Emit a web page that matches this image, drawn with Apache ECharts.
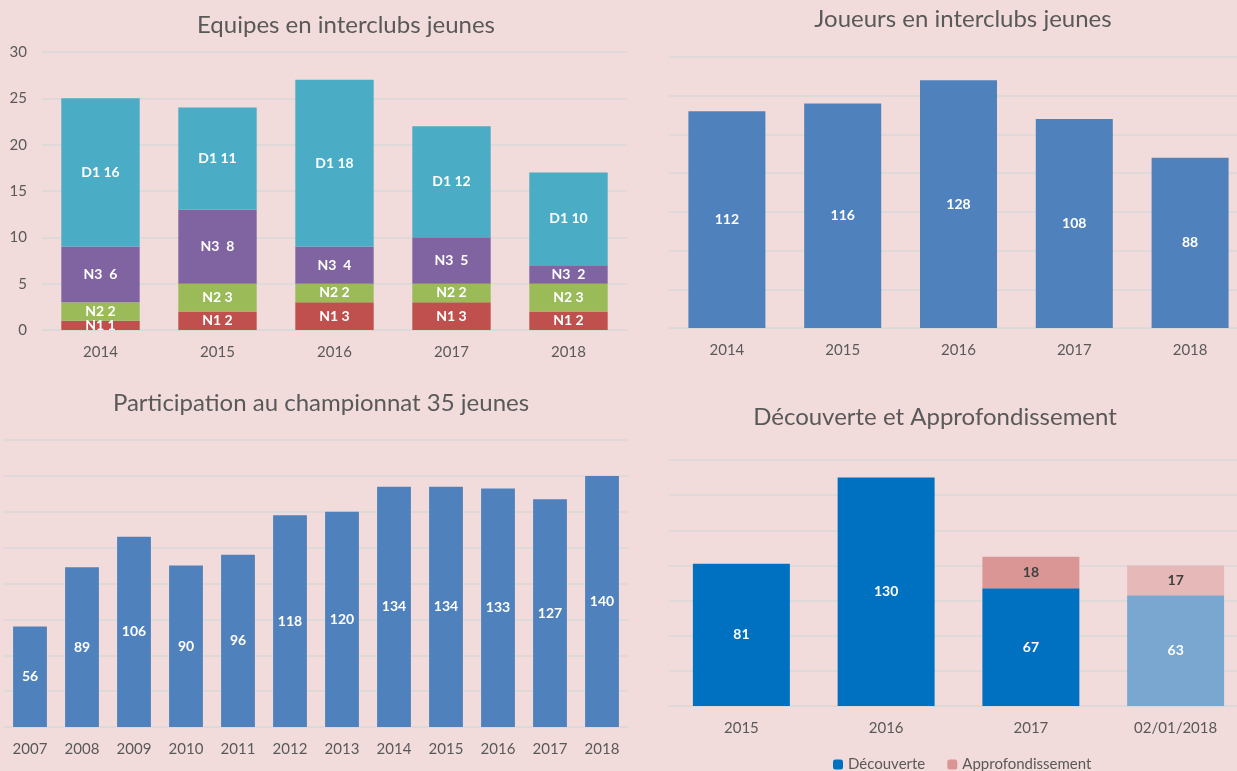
<!DOCTYPE html>
<html>
<head>
<meta charset="utf-8">
<script src="https://cdn.jsdelivr.net/npm/echarts@6/dist/echarts.min.js"></script>
<style>
  html, body { margin: 0; padding: 0; background: #F2DCDB; }
  #main { width: 1237px; height: 771px; }
</style>
</head>
<body>
<div id="main"></div>
<script>
// Equipes en interclubs jeunes
var equipesYears = ['2014', '2015', '2016', '2017', '2018'];
var n1 = [1, 2, 3, 3, 2];
var n2 = [2, 3, 2, 2, 3];
var n3 = [6, 8, 4, 5, 2];
var d1 = [16, 11, 18, 12, 10];

// Joueurs en interclubs jeunes
var joueursYears = ['2014', '2015', '2016', '2017', '2018'];
var joueurs = [112, 116, 128, 108, 88];

// Participation au championnat 35 jeunes
var champYears = ['2007', '2008', '2009', '2010', '2011', '2012', '2013', '2014', '2015', '2016', '2017', '2018'];
var champ = [56, 89, 106, 90, 96, 118, 120, 134, 134, 133, 127, 140];

// Découverte et Approfondissement
var decYears = ['2015', '2016', '2017', '02/01/2018'];
var decouverte = [81, 130, 67, 63];
var approf = [null, null, 18, 17];

var font = 'Lato';
var txt = '#595959';
var gridColor = '#D9D9D9';

var mychart = echarts.init(document.getElementById('main'));

function catAxis(gi, data) {
    return {
        type: 'category',
        gridIndex: gi,
        data: data,
        axisTick: { show: false },
        axisLine: { show: true, lineStyle: { color: gridColor, width: 1 } },
        axisLabel: { color: txt, fontSize: 15, fontFamily: font, margin: 15 }
    };
}

function valAxis(gi, max, step, showLabel) {
    return {
        type: 'value',
        gridIndex: gi,
        min: 0,
        max: max,
        interval: step,
        axisLine: { show: false },
        axisTick: { show: false },
        axisLabel: { show: showLabel, color: txt, fontSize: 15, fontFamily: font, margin: 15 },
        splitLine: { lineStyle: { color: gridColor, width: 1.5 } }
    };
}

function inLabel(prefix, color) {
    return {
        show: true,
        position: 'inside',
        color: color || '#fff',
        fontWeight: 'bold',
        fontSize: 14,
        fontFamily: font,
        formatter: function(p) {
            if (p.value == null) return '';
            return prefix + p.value;
        }
    };
}

function stackBar(name, data, color, prefix) {
    return {
        name: name,
        type: 'bar',
        xAxisIndex: 0,
        yAxisIndex: 0,
        stack: 'eq',
        barWidth: '67%',
        data: data,
        itemStyle: { color: color },
        label: inLabel(prefix)
    };
}

var titleStyle = { color: txt, fontSize: 24, fontWeight: 'normal', fontFamily: font };

var option = {
    backgroundColor: '#F2DCDB',
    animation: false,
    title: [
        { text: 'Equipes en interclubs jeunes', left: 341, top: 8, textAlign: 'center', textStyle: titleStyle },
        { text: 'Joueurs en interclubs jeunes', left: 958, top: 2, textAlign: 'center', textStyle: titleStyle },
        { text: 'Participation au championnat 35 jeunes', left: 316, top: 386, textAlign: 'center', textStyle: titleStyle },
        { text: 'Découverte et Approfondissement', left: 930, top: 400, textAlign: 'center', textStyle: titleStyle }
    ],
    legend: {
        data: ['Découverte', 'Approfondissement'],
        left: 828,
        top: 752,
        itemWidth: 10,
        itemHeight: 10,
        itemGap: 22,
        textStyle: { color: txt, fontSize: 15, fontFamily: font }
    },
    grid: [
        { left: 42, top: 52, width: 585, height: 278, outerBoundsMode: 'none' },
        { left: 669, top: 57, width: 579, height: 271, outerBoundsMode: 'none' },
        { left: 4, top: 440, width: 624, height: 287, outerBoundsMode: 'none' },
        { left: 669, top: 460, width: 579, height: 246, outerBoundsMode: 'none' }
    ],
    xAxis: [
        catAxis(0, equipesYears),
        catAxis(1, joueursYears),
        catAxis(2, champYears),
        catAxis(3, decYears)
    ],
    yAxis: [
        valAxis(0, 30, 5, true),
        valAxis(1, 140, 20, false),
        valAxis(2, 160, 20, false),
        valAxis(3, 140, 20, false)
    ],
    series: [
        stackBar('N1', n1, '#C0504D', 'N1 '),
        stackBar('N2', n2, '#9BBB59', 'N2 '),
        stackBar('N3', n3, '#8064A2', 'N3  '),
        stackBar('D1', d1, '#4BACC6', 'D1 '),
        {
            name: 'Joueurs',
            type: 'bar',
            xAxisIndex: 1,
            yAxisIndex: 1,
            barWidth: '66.5%',
            data: joueurs,
            itemStyle: { color: '#4F81BD' },
            label: inLabel('')
        },
        {
            name: 'Participation',
            type: 'bar',
            xAxisIndex: 2,
            yAxisIndex: 2,
            barWidth: '65%',
            data: champ,
            itemStyle: { color: '#4F81BD' },
            label: inLabel('')
        },
        {
            name: 'Découverte',
            type: 'bar',
            xAxisIndex: 3,
            yAxisIndex: 3,
            stack: 'dec',
            barWidth: '67%',
            itemStyle: { color: '#0070C0' },
            data: decouverte.map(function(v, i) {
                // la derniere annee est en cours, couleur pale
                if (i == decouverte.length - 1) return { value: v, itemStyle: { color: '#79A7CF' } };
                return v;
            }),
            label: inLabel('')
        },
        {
            name: 'Approfondissement',
            type: 'bar',
            xAxisIndex: 3,
            yAxisIndex: 3,
            stack: 'dec',
            barWidth: '67%',
            itemStyle: { color: '#D99694' },
            data: approf.map(function(v, i) {
                if (i == approf.length - 1) return { value: v, itemStyle: { color: '#E6B8B7' } };
                return v;
            }),
            label: inLabel('', '#404040')
        }
    ]
};

mychart.setOption(option);
</script>
</body>
</html>
